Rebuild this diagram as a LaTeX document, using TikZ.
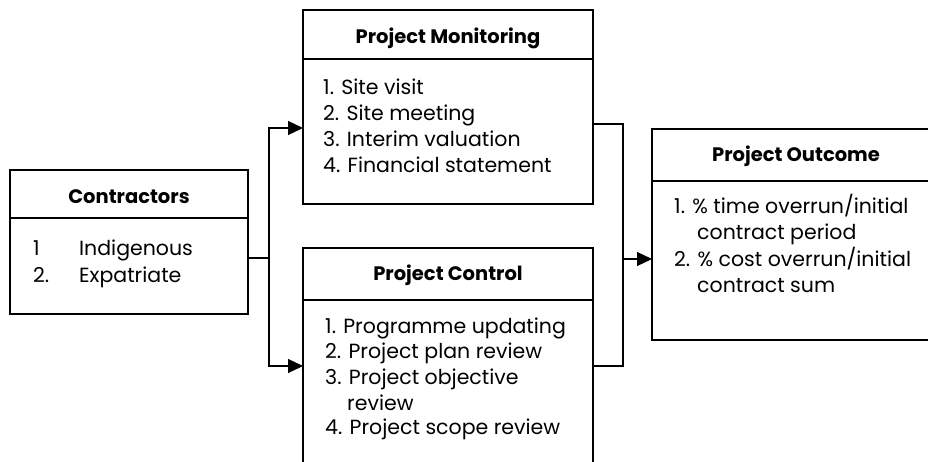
\documentclass[tikz,border=0pt]{standalone}
\usepackage{fontspec}
\setmainfont{Poppins}
\usetikzlibrary{arrows.meta}
\begin{document}
\begin{tikzpicture}[x=1pt,y=-1pt,
  box/.style={draw, line width=1.2pt, inner sep=0pt, outer sep=0pt},
  conn/.style={line width=1.2pt},
  arr/.style={conn,-{Triangle[length=15pt,width=14pt]}},
  hd/.style={font=\fontsize{19.5}{23}\selectfont\bfseries, inner sep=0pt, anchor=base},
  itm/.style={font=\fontsize{20.5}{24}\selectfont, inner sep=0pt, anchor=base west}]
\useasboundingbox (0,0) rectangle (928,461);
\fill[white] (0,0) rectangle (928,461);
\begin{scope}
\clip (0,0) rectangle (928,461);
% boxes
\node[box, minimum width=238pt, minimum height=144pt, anchor=north west] (contr) at (10,170) {};
\node[box, minimum width=290pt, minimum height=194pt, anchor=north west] (mon) at (303,10) {};
\node[box, minimum width=290pt, minimum height=236pt, anchor=north west] (ctrl) at (303,248) {};
\node[box, minimum width=290pt, minimum height=211pt, anchor=north west] (out) at (652,129) {};
% dividers
\draw[conn] ([yshift=-48pt]contr.north west) -- ([yshift=-48pt]contr.north east);
\draw[conn] ([yshift=-49pt]mon.north west) -- ([yshift=-49pt]mon.north east);
\draw[conn] ([yshift=-52pt]ctrl.north west) -- ([yshift=-52pt]ctrl.north east);
\draw[conn] ([yshift=-52pt]out.north west) -- ([yshift=-52pt]out.north east);
% connectors
\coordinate (ja) at (269,258);
\coordinate (jr) at (623,259);
\draw[conn] (ja -| contr.east) -- (ja);
\draw[arr] (ja) |- ([yshift=-21pt]mon.west);
\draw[arr] (ja) |- (ctrl.west);
\draw[conn] ([yshift=-17pt]mon.east) -| (jr);
\draw[conn] (ctrl.east) -| (jr);
\draw[arr] (jr) -- (jr -| out.west);
\end{scope}
% headers
\node[hd] (contrh) at (129,203) {Contractors};
\node[hd] (monh) at (448,43) {Project Monitoring};
\node[hd] (ctrlh) at (448,280) {Project Control};
\node[hd] (outh) at (796,161) {Project Outcome};
% contractors items
\node[itm] (c1n) at (33,255) {1};
\node[itm] (c1) at (79,255) {Indigenous};
\node[itm] (c2n) at (33,282) {2.};
\node[itm] (c2) at (79,282) {Expatriate};
% monitoring items
\node[itm] (m1) at (323,94) {1. Site visit};
\node[itm] (m2) at (323,120) {2. Site meeting};
\node[itm] (m3) at (323,146) {3. Interim valuation};
\node[itm] (m4) at (323,172) {4. Financial statement};
% control items
\node[itm] (k1) at (325,333) {1. Programme updating};
\node[itm] (k2) at (325,358) {2. Project plan review};
\node[itm] (k3) at (325,384) {3. Project objective};
\node[itm] (k3b) at (347,410) {review};
\node[itm] (k4) at (325,434) {4. Project scope review};
% outcome items
\node[itm] (o1) at (674,213) {1. \% time overrun/initial};
\node[itm] (o1b) at (697,239) {contract period};
\node[itm] (o2) at (674,266) {2. \% cost overrun/initial};
\node[itm] (o2b) at (697,292) {contract sum};
\end{tikzpicture}
\end{document}
